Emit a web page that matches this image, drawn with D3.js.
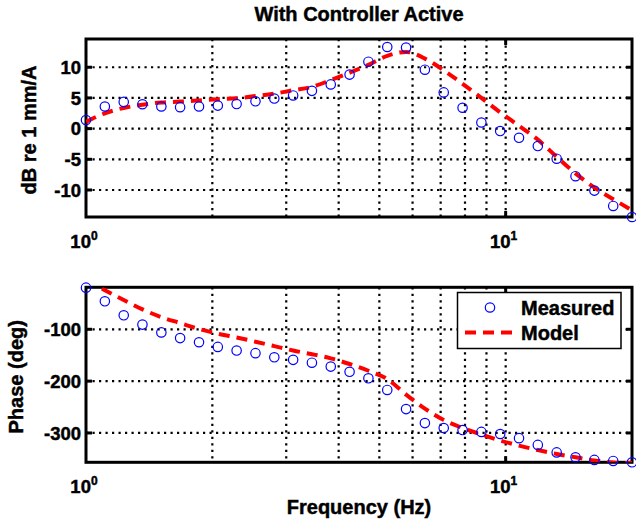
<!DOCTYPE html>
<html>
<head>
<meta charset="utf-8">
<script src="https://cdn.jsdelivr.net/npm/d3@7"></script>
<style>
  body { margin: 0; padding: 0; background: #fff; }
  svg { display: block; }
  text { font-family: "Liberation Sans", Arial, Helvetica, sans-serif; font-weight: bold; fill: #000; stroke: #000; stroke-width: 0.45px; }
</style>
</head>
<body>
<svg id="chart" width="636" height="525"></svg>
<script>
// frequency points (Hz), log spaced from 1 to 20
const freq = [1.000, 1.109, 1.230, 1.363, 1.512, 1.676, 1.859, 2.061, 2.285, 2.534,
              2.810, 3.116, 3.454, 3.830, 4.247, 4.709, 5.222, 5.790, 6.420, 7.119,
              7.894, 8.753, 9.704, 10.76, 11.93, 13.23, 14.67, 16.27, 18.04, 20.00];

// magnitude, dB re 1 mm/A
const measuredMag = [1.4, 3.6, 4.35, 3.97, 3.6, 3.5, 3.6, 3.75, 4.0, 4.45,
                     4.9, 5.4, 6.15, 7.2, 8.8, 10.9, 13.3, 13.2, 9.6, 5.9,
                     3.4, 1.0, -0.4, -1.5, -2.84, -4.9, -7.75, -10.1, -12.6, -14.4];
const modelMag = [1.1, 2.5, 3.37, 3.9, 4.25, 4.4, 4.6, 4.8, 4.95, 5.3,
                  5.7, 6.25, 6.8, 7.9, 9.1, 10.4, 11.85, 12.5, 11.4, 9.5,
                  7.3, 5.0, 2.65, 0.45, -1.8, -4.6, -7.3, -9.6, -11.5, -13.3];

// phase, deg
const measuredPhase = [-19.7, -46, -73, -91, -106, -117, -125, -134, -141, -146,
                       -154, -159, -164.5, -172, -182, -194.6, -217, -254, -281, -290.5,
                       -294.4, -298, -302, -310, -323, -337.5, -347, -352, -354, -356.6];
const modelPhase = [-5, -24.5, -43.5, -61.5, -76.5, -88, -99.5, -108.5, -115.7, -124,
                    -132.5, -141, -148, -156, -167, -180, -196, -226, -253, -275,
                    -290.5, -303, -314.5, -324.5, -333, -340.5, -347, -353, -356.8, -358];

const magTicks = [-10, -5, 0, 5, 10];
const phaseTicks = [-300, -200, -100];
const gridFreqs = [2, 3, 4, 5, 6, 7, 8, 9, 10];
const decadeTicks = [{ v: 1, exp: "0" }, { v: 10, exp: "1" }];

const svg = d3.select("#chart");
const left = 86, right = 632;

const x = d3.scaleLog().domain([1, 20]).range([left, right]);

function drawPanel(cfg) {
  const y = d3.scaleLinear().domain(cfg.yDomain).range([cfg.bottom, cfg.top]);
  const g = svg.append("g");
  const clipId = "clip-" + cfg.id;

  svg.append("clipPath").attr("id", clipId)
    .append("rect")
    .attr("x", left).attr("y", cfg.top)
    .attr("width", right - left).attr("height", cfg.bottom - cfg.top);

  // dotted grid
  g.selectAll(".vgrid")
    .data(gridFreqs)
    .join("line")
    .attr("x1", d => x(d)).attr("x2", d => x(d))
    .attr("y1", cfg.top).attr("y2", cfg.bottom)
    .attr("stroke", "#000").attr("stroke-width", 2.2)
    .attr("stroke-dasharray", "2.2,4.3");

  g.selectAll(".hgrid")
    .data(cfg.ticks)
    .join("line")
    .attr("x1", left).attr("x2", right)
    .attr("y1", d => y(d)).attr("y2", d => y(d))
    .attr("stroke", "#000").attr("stroke-width", 2.2)
    .attr("stroke-dasharray", "2.2,4.3");

  // tick marks inside, both sides
  g.selectAll(".ytickL")
    .data(cfg.ticks)
    .join("line")
    .attr("x1", left).attr("x2", left + 6)
    .attr("y1", d => y(d)).attr("y2", d => y(d))
    .attr("stroke", "#000").attr("stroke-width", 3);
  g.selectAll(".ytickR")
    .data(cfg.ticks)
    .join("line")
    .attr("x1", right - 6).attr("x2", right)
    .attr("y1", d => y(d)).attr("y2", d => y(d))
    .attr("stroke", "#000").attr("stroke-width", 3);

  g.selectAll(".xtickB")
    .data([10])
    .join("line")
    .attr("x1", d => x(d)).attr("x2", d => x(d))
    .attr("y1", cfg.bottom).attr("y2", cfg.bottom - 6)
    .attr("stroke", "#000").attr("stroke-width", 3);
  g.selectAll(".xtickT")
    .data([10])
    .join("line")
    .attr("x1", d => x(d)).attr("x2", d => x(d))
    .attr("y1", cfg.top).attr("y2", cfg.top + 6)
    .attr("stroke", "#000").attr("stroke-width", 3);

  // box
  g.append("rect")
    .attr("x", left).attr("y", cfg.top)
    .attr("width", right - left).attr("height", cfg.bottom - cfg.top)
    .attr("fill", "none").attr("stroke", "#000").attr("stroke-width", 3);

  // y tick labels
  g.selectAll(".ylab")
    .data(cfg.ticks)
    .join("text")
    .attr("x", left - 5)
    .attr("y", d => y(d))
    .attr("dy", "0.36em")
    .attr("text-anchor", "end")
    .attr("font-size", "18.5px")
    .text(d => d);

  // x tick labels 10^n
  const xl = g.selectAll(".xlab")
    .data(decadeTicks)
    .join("text")
    .attr("x", d => x(d.v) - 2)
    .attr("y", cfg.bottom + 31)
    .attr("text-anchor", "middle")
    .attr("font-size", "18.5px");
  xl.append("tspan").text("10");
  xl.append("tspan").attr("font-size", "12px").attr("dy", "-8").text(d => d.exp);

  // y label
  g.append("text")
    .attr("transform", `translate(${cfg.ylabelX},${(cfg.top + cfg.bottom) / 2 + 2}) rotate(-90)`)
    .attr("text-anchor", "middle")
    .attr("font-size", "20px")
    .text(cfg.ylabel);

  // model line (clipped)
  const line = d3.line()
    .x((d, i) => x(freq[i]))
    .y(d => y(d))
    .curve(d3.curveMonotoneX);

  g.append("path")
    .datum(cfg.model)
    .attr("clip-path", `url(#${clipId})`)
    .attr("d", line)
    .attr("fill", "none")
    .attr("stroke", "#ff0000")
    .attr("stroke-width", 4)
    .attr("stroke-dasharray", "11,7");

  // measured circles
  g.selectAll(".pt")
    .data(cfg.measured)
    .join("circle")
    .attr("cx", (d, i) => x(freq[i]))
    .attr("cy", d => y(d))
    .attr("r", 4.7)
    .attr("fill", "none")
    .attr("stroke", "#0000ff")
    .attr("stroke-width", 1.2);

  return g;
}

drawPanel({
  id: "mag", top: 39, bottom: 217, yDomain: [-14.4, 14.6],
  ticks: magTicks, measured: measuredMag, model: modelMag,
  ylabel: "dB re 1 mm/A", ylabelX: 36
});

drawPanel({
  id: "phase", top: 287.3, bottom: 462.3, yDomain: [-356.6, -19],
  ticks: phaseTicks, measured: measuredPhase, model: modelPhase,
  ylabel: "Phase (deg)", ylabelX: 23
});

// title and x label
svg.append("text")
  .attr("x", (left + right) / 2).attr("y", 21)
  .attr("text-anchor", "middle").attr("font-size", "20px")
  .text("With Controller Active");

svg.append("text")
  .attr("x", (left + right) / 2).attr("y", 514)
  .attr("text-anchor", "middle").attr("font-size", "20px")
  .text("Frequency (Hz)");

// legend
const legend = svg.append("g");
legend.append("rect")
  .attr("x", 457.5).attr("y", 292.5)
  .attr("width", 163.5).attr("height", 56)
  .attr("fill", "#fff").attr("stroke", "#000").attr("stroke-width", 1.5);
legend.append("circle")
  .attr("cx", 490).attr("cy", 307.5).attr("r", 4.7)
  .attr("fill", "none").attr("stroke", "#0000ff").attr("stroke-width", 1.2);
legend.append("text")
  .attr("x", 521).attr("y", 314.5).attr("font-size", "20px").text("Measured");
legend.append("line")
  .attr("x1", 465).attr("x2", 518).attr("y1", 332.5).attr("y2", 332.5)
  .attr("stroke", "#ff0000").attr("stroke-width", 4).attr("stroke-dasharray", "11,7");
legend.append("text")
  .attr("x", 521).attr("y", 340).attr("font-size", "20px").text("Model");
</script>
</body>
</html>
